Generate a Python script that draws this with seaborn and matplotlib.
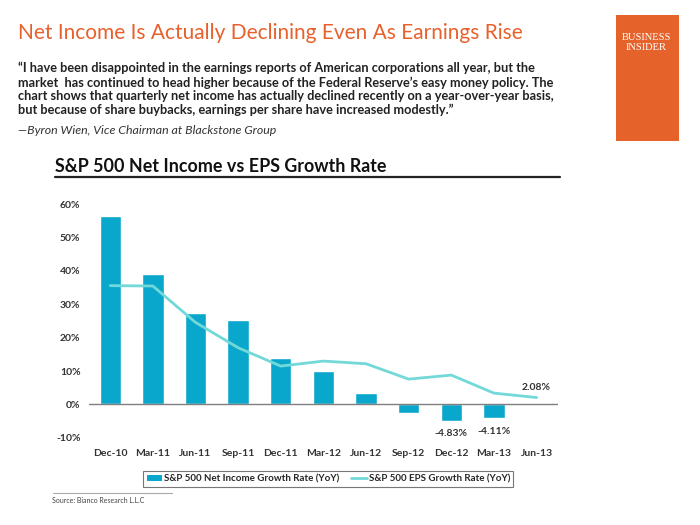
import numpy as np
import pandas as pd
import matplotlib
matplotlib.use("Agg")
import matplotlib.pyplot as plt
import seaborn as sns
from matplotlib.patches import Patch, Rectangle
from matplotlib.lines import Line2D

quarters = ["Dec-10", "Mar-11", "Jun-11", "Sep-11", "Dec-11", "Mar-12",
            "Jun-12", "Sep-12", "Dec-12", "Mar-13", "Jun-13"]
net_income = [56.4, 39.1, 27.3, 25.3, 14.0, 9.9, 3.5, -2.7, -4.83, -4.11, np.nan]
eps_growth = [35.6, 35.5, 24.6, 17.0, 11.5, 13.0, 12.2, 7.6, 8.8, 3.4, 2.08]
y_ticks = [-10, 0, 10, 20, 30, 40, 50, 60]

bar_col = "#0aa7cd"
line_col = "#72d8d8"
orange = "#e8602c"

df = pd.DataFrame({"quarter": quarters, "net": net_income, "eps": eps_growth})
df["pos"] = np.arange(len(quarters))

sns.set_theme(style="white")
plt.rcParams["font.family"] = ["Lato", "DejaVu Sans"]

fig = plt.figure(figsize=(7, 5.25), dpi=100)
ax = fig.add_axes([0.127, 0.166, 0.67, 0.445])

sns.barplot(data=df, x="quarter", y="net", order=quarters, color=bar_col,
            width=0.5, saturation=1, ax=ax)
sns.lineplot(x=df["pos"], y=df["eps"], color=line_col, linewidth=2, ax=ax)

ax.axhline(0, color="#7f7f7f", linewidth=1)
ax.set_xlim(-0.5, len(quarters) - 0.5)
ax.set_ylim(-10, 60)
ax.set_yticks(y_ticks)
ax.set_yticklabels([f"{t}%" for t in y_ticks], fontsize=7.5, fontweight="bold", color="#333333")
ax.set_xticks(df["pos"])
ax.set_xticklabels(quarters, fontsize=7.5, fontweight="bold", color="#333333")
ax.tick_params(axis="both", length=0, pad=6)
ax.tick_params(axis="x", pad=8)
ax.set_xlabel("")
ax.set_ylabel("")
for s in ax.spines.values():
    s.set_visible(False)

# data labels
for i in [8, 9]:
    ax.text(i, net_income[i] - 2.5, f"{net_income[i]:.2f}%", ha="center", va="top",
            fontsize=7.5, fontweight="bold", color="#333333")
ax.text(10, eps_growth[10] + 1.8, f"{eps_growth[10]:.2f}%", ha="center", va="bottom",
        fontsize=7.5, fontweight="bold", color="#333333")

# headline + quote
fig.text(0.026, 0.937, "Net Income Is Actually Declining Even As Earnings Rise",
         fontsize=15.0, color=orange, va="center")
quote = ("\u201cI have been disappointed in the earnings reports of American corporations all year, but the\n"
         "market  has continued to head higher because of the Federal Reserve\u2019s easy money policy. The\n"
         "chart shows that quarterly net income has actually declined recently on a year-over-year basis,\n"
         "but because of share buybacks, earnings per share have increased modestly.\u201d")
fig.text(0.026, 0.882, quote, fontsize=9.2, fontweight="bold", color="#222222",
         va="top", linespacing=1.17)
fig.text(0.026, 0.752, "\u2014Byron Wien, Vice Chairman at Blackstone Group", fontsize=8.9,
         style="italic", color="#333333", va="center")

# Business Insider box
fig.patches.append(Rectangle((0.880, 0.731), 0.090, 0.241, transform=fig.transFigure,
                             facecolor="#e5622b", edgecolor="none"))
fig.text(0.923, 0.919, "BUSINESS\nINSIDER", ha="center", va="center", color="white",
         fontsize=7.6, family=["Liberation Serif", "DejaVu Serif"], linespacing=1.05)

# chart title with underline
fig.text(0.079, 0.683, "S&P 500 Net Income vs EPS Growth Rate", fontsize=12.9,
         fontweight="bold", color="#111111", va="center")
fig.add_artist(Line2D([0.079, 0.800], [0.663, 0.663], transform=fig.transFigure,
                      color="#222222", linewidth=1.6))

# legend
handles = [Patch(facecolor=bar_col, edgecolor="none"),
           Line2D([0], [0], color=line_col, linewidth=2)]
leg = fig.legend(handles, ["S&P 500 Net Income Growth Rate (YoY)", "S&P 500 EPS Growth Rate (YoY)"],
                 loc="center", bbox_to_anchor=(0.469, 0.088), ncol=2, frameon=True,
                 fancybox=False, handlelength=1.6, handletextpad=0.2,
                 columnspacing=1.2, borderpad=0.35, prop={"weight": "bold", "size": 7.0})
leg.get_frame().set_edgecolor("#555555")
leg.get_frame().set_linewidth(0.8)

# source
fig.add_artist(Line2D([0.075, 0.246], [0.061, 0.061], transform=fig.transFigure,
                      color="#aaaaaa", linewidth=0.8))
fig.text(0.075, 0.047, "Source: Bianco Research L.L.C", fontsize=5, color="#444444", va="center")

fig.savefig("out.png", dpi=100, facecolor="white")
